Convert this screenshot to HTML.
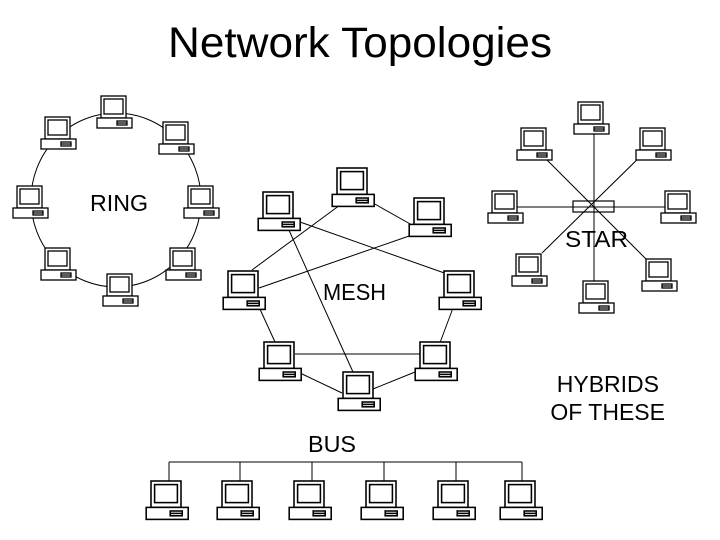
<!DOCTYPE html>
<html><head><meta charset="utf-8"><style>
html,body{margin:0;padding:0;background:#fff;}
svg{display:block;}
text{font-family:"Liberation Sans",Arial,sans-serif;fill:#000;}
</style></head><body>
<svg width="720" height="540" viewBox="0 0 720 540" xmlns="http://www.w3.org/2000/svg">
<defs>
<g id="pc" fill="#fff" stroke="#000" stroke-width="1.3">
<rect x="0" y="0" width="25" height="22"/>
<rect x="3" y="3" width="19" height="15"/>
<rect x="-4" y="22" width="35" height="10"/>
<rect x="16" y="25" width="10" height="4"/>
<line x1="16" y1="27" x2="26" y2="27"/>
</g>
</defs>
<text x="360" y="57" font-size="43" text-anchor="middle" textLength="384" lengthAdjust="spacingAndGlyphs">Network Topologies</text>

<!-- RING -->
<ellipse cx="116" cy="200" rx="85" ry="87" fill="none" stroke="#000" stroke-width="1"/>
<use href="#pc" x="101" y="96"/>
<use href="#pc" x="45" y="117"/>
<use href="#pc" x="163" y="122"/>
<use href="#pc" x="17" y="186"/>
<use href="#pc" x="188" y="186"/>
<use href="#pc" x="45" y="248"/>
<use href="#pc" x="170" y="248"/>
<use href="#pc" x="107" y="274"/>
<text x="90" y="211" font-size="23" textLength="58" lengthAdjust="spacingAndGlyphs">RING</text>

<!-- MESH -->
<g stroke="#000" stroke-width="1">
<line x1="340" y1="205" x2="252" y2="270"/>
<line x1="288" y1="228" x2="353" y2="372"/>
<line x1="300" y1="222" x2="450" y2="275"/>
<line x1="373" y1="203" x2="412" y2="225"/>
<line x1="412" y1="235" x2="259" y2="288"/>
<line x1="259" y1="307" x2="275" y2="342"/>
<line x1="295" y1="354" x2="422" y2="354"/>
<line x1="300" y1="373" x2="342" y2="393"/>
<line x1="373" y1="389" x2="415" y2="372"/>
<line x1="456" y1="300" x2="438" y2="348"/>
</g>
<g transform="translate(337,168) scale(1.2)"><use href="#pc"/></g>
<g transform="translate(263,192) scale(1.2)"><use href="#pc"/></g>
<g transform="translate(414,198) scale(1.2)"><use href="#pc"/></g>
<g transform="translate(228,271) scale(1.2)"><use href="#pc"/></g>
<g transform="translate(444,271) scale(1.2)"><use href="#pc"/></g>
<g transform="translate(264,342) scale(1.2)"><use href="#pc"/></g>
<g transform="translate(420,342) scale(1.2)"><use href="#pc"/></g>
<g transform="translate(343,372) scale(1.2)"><use href="#pc"/></g>
<text x="323" y="300" font-size="23" textLength="63" lengthAdjust="spacingAndGlyphs">MESH</text>

<!-- STAR -->
<g stroke="#000" stroke-width="1">
<line x1="594" y1="121" x2="594" y2="282"/>
<line x1="515" y1="207" x2="666" y2="207"/>
<line x1="545" y1="158" x2="650" y2="263"/>
<line x1="650" y1="147" x2="542" y2="253"/>
</g>
<use href="#pc" x="578" y="102"/>
<use href="#pc" x="521" y="128"/>
<use href="#pc" x="640" y="128"/>
<use href="#pc" x="492" y="191"/>
<use href="#pc" x="665" y="191"/>
<use href="#pc" x="516" y="254"/>
<use href="#pc" x="646" y="259"/>
<use href="#pc" x="583" y="281"/>
<rect x="573" y="201" width="41" height="11" fill="none" stroke="#000" stroke-width="1.2"/>
<line x1="594" y1="201" x2="594" y2="212" stroke="#000"/>
<text x="565" y="247" font-size="23" textLength="63" lengthAdjust="spacingAndGlyphs">STAR</text>

<text x="659" y="392" font-size="23" text-anchor="end">HYBRIDS</text>
<text x="665" y="420" font-size="23" text-anchor="end">OF THESE</text>

<!-- BUS -->
<text x="308" y="452" font-size="23" textLength="48" lengthAdjust="spacingAndGlyphs">BUS</text>
<g stroke="#000" stroke-width="1">
<line x1="169" y1="462" x2="522" y2="462"/>
<line x1="169" y1="462" x2="169" y2="481"/>
<line x1="240" y1="462" x2="240" y2="481"/>
<line x1="312" y1="462" x2="312" y2="481"/>
<line x1="384" y1="462" x2="384" y2="481"/>
<line x1="456" y1="462" x2="456" y2="481"/>
<line x1="522" y1="462" x2="522" y2="481"/>
</g>
<g transform="translate(151,481) scale(1.2)"><use href="#pc"/></g>
<g transform="translate(222,481) scale(1.2)"><use href="#pc"/></g>
<g transform="translate(294,481) scale(1.2)"><use href="#pc"/></g>
<g transform="translate(366,481) scale(1.2)"><use href="#pc"/></g>
<g transform="translate(438,481) scale(1.2)"><use href="#pc"/></g>
<g transform="translate(505,481) scale(1.2)"><use href="#pc"/></g>
</svg>
</body></html>
